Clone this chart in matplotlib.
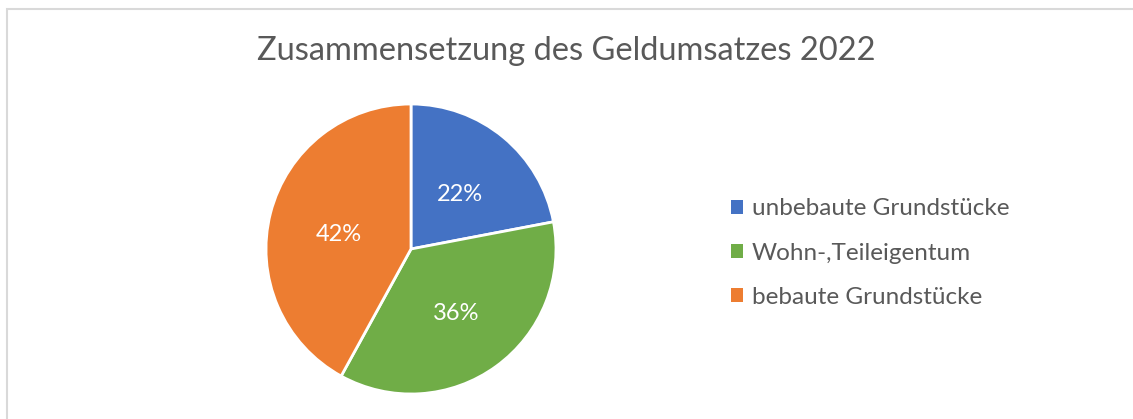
import matplotlib.pyplot as plt
import matplotlib.transforms as mtransforms
from matplotlib.patches import Rectangle, Patch

labels = ['unbebaute Grundstücke', 'Wohn-,Teileigentum', 'bebaute Grundstücke']
shares = [22, 36, 42]
colors = ['#4472C4', '#70AD47', '#ED7D31']
title = 'Zusammensetzung des Geldumsatzes 2022'

plt.rcParams['font.family'] = ['Lato', 'DejaVu Sans']
txt = '#595959'

W, H = 1133, 419
fig = plt.figure(figsize=(W / 100, H / 100), dpi=100)

# light frame like the office chart area
fig.patches.append(Rectangle((6.5 / W, -0.1), 1.2, 1 - 9.5 / H + 0.1, transform=fig.transFigure,
                             fill=False, edgecolor='#D9D9D9', linewidth=1.5))

# pie axes, centre (411, 249) px, radius 145 px
cx, cy, r = 411, 249, 145
ax = fig.add_axes([(cx - r) / W, (H - cy - r) / H, 2 * r / W, 2 * r / H])
wedges, _, autotexts = ax.pie(shares, colors=colors, startangle=90, counterclock=False,
                              autopct='%1.0f%%', pctdistance=0.52, radius=1,
                              wedgeprops=dict(edgecolor='white', linewidth=2),
                              textprops=dict(color='white', fontsize=17))
for w in wedges:
    w.set_clip_on(False)
# nudge the percentage labels down a little (visual centring of digits)
for t in autotexts:
    t.set_transform(mtransforms.offset_copy(ax.transData, fig=fig, x=1, y=-4, units='dots'))
ax.set_xlim(-1, 1)
ax.set_ylim(-1, 1)
ax.set_aspect('equal')
ax.axis('off')

fig.text(566 / W, 1 - 51 / H, title, ha='center', va='center', fontsize=23.5, color=txt)

handles = [Patch(facecolor=c, edgecolor='none') for c in colors]
fig.legend(handles, labels, loc='center left', bbox_to_anchor=(709 / W, 1 - 253 / H),
           frameon=False, fontsize=17.5, labelcolor=txt, handlelength=0.5, handleheight=0.5,
           handletextpad=0.35, labelspacing=0.95)

fig.savefig('out.png', dpi=100)
